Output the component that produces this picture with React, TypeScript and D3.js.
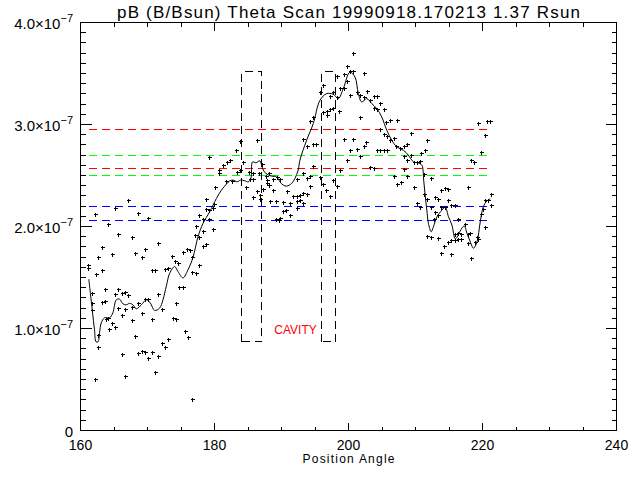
import React from 'react';
import * as d3 from 'd3';

// ---------- data (y values in units of 1e-7) ----------
const X_DOMAIN: [number, number] = [160, 240];
const Y_DOMAIN: [number, number] = [0, 4];
const X_MAJOR_TICKS = [160, 180, 200, 220, 240];
const X_TICK_LABELS = ['160', '180', '200', '220', '240'];
const Y_MAJOR_TICKS = [0, 1, 2, 3, 4];
const Y_TICK_MANTISSA = ['0', '1.0×10', '2.0×10', '3.0×10', '4.0×10'];
const Y_TICK_EXPONENT = ['', '−7', '−7', '−7', '−7'];

const TITLE = 'pB (B/Bsun) Theta Scan 19990918.170213 1.37 Rsun';
const X_TITLE = 'Position Angle';
const CAVITY_LABEL = 'CAVITY';
const CAVITY_POS: [number, number] = [192.1, 0.95];

const scanPoints: [number, number][] = [
  [161.20,1.617],[161.20,1.591],[161.75,1.347],[161.75,1.242],[161.75,1.177],[162.35,1.526],[162.24,2.122],[162.74,1.699],
  [162.74,0.809],[163.24,1.568],[163.24,1.797],[163.24,1.259],[163.74,1.386],[163.74,1.265],[164.23,2.024],[163.93,1.092],
  [164.23,1.102],[164.34,0.988],[164.74,1.721],[164.74,1.046],[165.23,2.178],[165.23,1.330],[165.23,1.014],[165.73,1.920],
  [165.73,1.386],[165.73,1.200],[166.24,1.347],[166.24,1.125],[166.73,1.353],[166.73,1.183],[167.22,2.259],[167.22,1.320],
  [167.73,1.890],[167.73,1.210],[167.73,1.079],[168.22,1.738],[168.22,0.922],[168.72,2.129],[168.72,1.249],[169.23,1.699],
  [169.23,1.151],[169.72,1.777],[169.72,1.281],[170.21,2.076],[170.21,1.281],[170.72,1.568],[170.72,1.086],[171.21,1.568],
  [171.71,1.829],[171.71,1.337],[172.22,1.183],[172.22,0.851],[172.71,1.581],[172.71,0.809],[173.20,1.591],[173.20,0.897],
  [173.71,1.705],[173.91,1.098],[174.31,1.249],[174.40,1.092],[174.21,1.653],[174.70,1.640],[162.24,0.499],[162.74,0.929],
  [166.24,0.743],[166.73,0.525],[168.72,0.753],[169.23,0.776],[169.72,0.760],[170.21,0.701],[171.21,0.570],[171.71,0.727],
  [170.72,0.766],
  [175.30,1.744],[175.90,1.777],[176.40,1.763],[176.70,1.699],[177.20,1.907],[177.69,1.894],[177.30,1.998],[177.79,2.103],
  [178.39,2.070],[179.29,2.070],[178.29,1.802],[178.80,1.819],[178.80,2.266],[178.80,2.168],[179.29,2.155],[179.78,2.178],
  [180.04,2.220],[179.78,1.973],[179.29,2.677],[180.79,2.546],[180.79,2.520],[181.38,2.601],[181.88,2.624],[182.39,2.644],
  [181.79,2.438],[182.68,2.438],[183.28,2.748],[183.37,2.526],[183.88,2.553],[183.88,2.829],[184.27,2.631],[184.78,2.383],
  [185.27,2.526],[185.76,2.520],[185.38,2.462],[185.87,2.462],[185.76,2.286],[186.36,2.846],[186.36,2.344],[186.77,2.520],
  [186.87,2.308],[186.87,2.266],[187.17,2.608],[187.36,2.364],[187.77,2.487],[187.86,2.455],[187.86,2.422],[188.26,2.520],
  [188.26,2.406],[188.37,2.243],[188.86,2.462],[188.86,2.357],[189.26,2.243],[189.35,2.481],[189.86,2.462],[189.26,2.064],
  [189.76,2.057],[189.86,2.080],[190.25,2.233],[190.85,2.344],[190.76,2.155],[174.80,1.401],[175.30,1.401],[175.70,0.968],
  [176.19,0.907],[176.79,0.303],[176.79,1.552],[177.30,1.542],[177.69,1.614],[178.29,1.949],[180.19,2.383],[190.25,2.145],
  [200.82,3.694],[199.82,3.573],[200.33,3.524],[200.82,3.524],[198.33,3.472],[199.33,3.491],[202.32,3.498],[199.82,3.423],
  [198.83,3.352],[199.33,3.352],[196.23,3.384],[195.84,3.309],[197.34,3.276],[197.83,3.309],[198.33,3.264],[200.33,3.286],
  [201.32,3.309],[201.82,3.286],[202.32,3.264],[202.81,3.328],[203.32,3.237],[203.81,3.279],[204.31,3.279],[203.81,3.156],
  [204.31,3.146],[204.82,3.205],[205.31,3.146],[201.82,3.068],[198.73,3.127],[196.23,3.113],[196.83,3.123],[197.34,3.146],
  [197.83,3.156],[196.83,3.090],[194.84,3.064],[194.35,3.032],[205.71,3.015],[206.31,3.042],[207.30,3.035],[204.82,2.951],
  [205.31,2.898],[205.80,2.878],[206.31,2.846],[206.80,2.859],[207.21,2.787],[193.35,2.853],[193.84,2.787],[194.84,2.807],
  [195.25,2.800],[199.33,2.853],[200.82,2.853],[202.72,2.820],[200.33,2.748],[201.32,2.755],[202.32,2.787],[204.31,2.748],
  [204.82,2.748],[205.31,2.741],[205.80,2.748],[199.82,2.650],[201.82,2.690],[203.32,2.579],[203.81,2.565],[198.83,2.553],
  [193.35,2.520],[192.34,2.462],[193.84,2.471],[194.35,2.487],[194.35,2.396],[195.84,2.481],[196.34,2.416],[197.83,2.448],
  [198.33,2.396],[206.80,2.494],[207.30,2.416],[191.85,2.298],[192.34,2.291],[192.85,2.308],[193.35,2.325],[193.84,2.318],
  [192.85,2.259],[192.34,2.243],[193.24,2.227],[192.34,2.178],[191.36,2.227],[191.36,2.112],[197.34,2.291],[194.74,2.585],
  [196.74,2.357],
  [219.41,3.009],[220.76,3.025],[221.26,3.025],[220.41,2.895],[209.45,2.912],[211.84,2.839],[208.79,2.807],[208.30,2.787],
  [207.81,2.765],[211.44,2.748],[210.95,2.716],[209.45,2.699],[219.92,2.726],[208.30,2.683],[208.79,2.650],[209.79,2.624],
  [210.29,2.624],[210.80,2.634],[208.30,2.559],[218.42,2.644],[218.77,2.624],[211.29,2.511],[208.79,2.487],[212.44,2.471],
  [207.96,2.435],[209.84,2.383],[213.94,2.350],[214.43,2.374],[214.92,2.364],[217.91,2.383],[221.41,2.318],[211.29,2.318],
  [211.78,2.269],[212.93,2.286],[213.43,2.266],[214.92,2.252],[220.41,2.259],[220.90,2.259],[210.35,2.227],[213.94,2.188],
  [214.43,2.188],[215.43,2.201],[215.93,2.201],[210.80,2.188],[212.44,2.188],[221.41,2.207],[220.16,2.168],[212.93,2.135],
  [213.43,2.103],[216.42,2.070],[217.42,2.024],[212.83,2.064],[219.92,2.113],[220.41,1.992],[215.93,1.917],[216.42,1.927],
  [216.93,1.917],[217.91,1.917],[218.27,1.927],[211.78,1.900],[212.44,1.894],[213.43,1.881],[215.43,1.861],[215.93,1.861],
  [216.42,1.875],[216.93,1.868],[219.32,1.894],[219.41,1.868],[214.92,1.842],[214.33,1.802],[217.91,1.836],[218.92,1.842],
  [213.83,1.738],[215.43,1.721],[218.42,1.689],
];

const smoothCurve: [number, number][] = [
  [161.24,1.484],[161.75,1.183],[162.09,0.988],[162.32,0.870],[162.62,0.870],[162.84,0.958],[163.10,1.056],[163.59,1.105],
  [164.34,1.105],[164.83,1.154],[165.34,1.281],[165.83,1.288],[166.33,1.242],[166.83,1.232],[167.33,1.247],[167.82,1.232],
  [168.33,1.193],[169.08,1.232],[169.82,1.281],[170.42,1.249],[171.07,1.177],[171.81,1.200],[172.31,1.281],[172.82,1.418],
  [173.31,1.542],[174.06,1.607],[174.55,1.558],[175.30,1.496],[176.04,1.575],[176.79,1.697],[177.54,1.900],[178.29,2.031],
  [179.29,2.145],[180.29,2.276],[181.04,2.357],[181.79,2.416],[182.28,2.448],[182.77,2.455],[183.37,2.438],[183.88,2.455],
  [184.52,2.448],[185.02,2.438],[185.42,2.471],[185.68,2.634],[186.17,2.624],[186.77,2.644],[187.17,2.569],[187.66,2.520],
  [188.52,2.494],[189.26,2.487],[189.76,2.438],[190.25,2.406],[190.76,2.396],[191.51,2.422],[192.00,2.471],[192.49,2.553],
  [192.75,2.650],[193.75,2.846],[194.74,3.009],[195.74,3.237],[196.74,3.303],[197.73,3.296],[198.48,3.254],[199.22,3.352],
  [200.22,3.514],[200.97,3.465],[201.47,3.303],[201.97,3.221],[202.72,3.254],[203.47,3.205],[204.22,3.156],[204.96,3.074],
  [205.71,2.944],[206.46,2.846],[207.21,2.781],[208.19,2.748],[208.94,2.699],[209.69,2.634],[210.39,2.624],[210.95,2.601],
  [211.22,2.455],[211.44,2.308],[211.69,2.161],[211.93,2.031],[212.34,1.949],[212.68,1.998],[213.19,2.093],[213.94,2.161],
  [214.43,2.191],[214.92,2.096],[215.43,2.015],[215.93,1.878],[216.22,1.897],[216.67,1.956],[217.27,2.005],[217.67,1.936],
  [218.07,1.868],[218.66,1.787],[219.17,1.848],[219.66,2.044],[220.11,2.191],[220.64,2.249],[221.16,2.272],
];

const LEVEL_VALUES = [2.954, 2.699, 2.569, 2.504, 2.200, 2.058];
const LEVEL_COLORS = ['#ff0000', '#00ff00', '#ff0000', '#00ff00', '#0000ff', '#0000ff'];
const LEVEL_X_RANGE: [number, number] = [161.2, 220.9];

const BOX_X_START = [184, 196];
const BOX_X_END = [187, 198];
const BOX_Y_RANGE: [number, number] = [0.87, 3.52];

// ---------- chart ----------
const FONT = "'Liberation Sans', Arial, Helvetica, sans-serif";

export default function App() {
  const W = 640;
  const H = 480;
  const x = d3.scaleLinear().domain(X_DOMAIN).range([80.5, 616.5]);
  const y = d3.scaleLinear().domain(Y_DOMAIN).range([430.5, 22.5]);
  const cx = (v: number) => Math.round(x(v) - 0.5) + 0.5;
  const cy = (v: number) => Math.round(y(v) - 0.5) + 0.5;

  const [x0, x1] = x.range();
  const [yB, yT] = y.range();

  const xMinor = d3.range(0, 17).map((i) => 160 + i * 5);
  const yMinor = d3.range(0, 41).map((i) => i / 10);

  let tickPath = '';
  xMinor.forEach((v) => {
    const major = X_MAJOR_TICKS.includes(v);
    const len = major ? 8 : 4;
    const px = cx(v);
    tickPath += `M${px},${yB}V${yB - len}M${px},${yT}V${yT + len}`;
  });
  yMinor.forEach((v, i) => {
    const major = i % 10 === 0;
    const len = major ? 11 : 5;
    const py = cy(v);
    tickPath += `M${x0},${py}H${x0 + len}M${x1},${py}H${x1 - len}`;
  });

  const line = d3
    .line<[number, number]>()
    .x((d) => x(d[0]))
    .y((d) => y(d[1]))
    .curve(d3.curveCatmullRom.alpha(0.5));

  const plusPath = scanPoints
    .map(([a, b]) => {
      const px = cx(a);
      const py = cy(b);
      return `M${px - 2},${py}H${px + 2}M${px},${py - 2}V${py + 2}`;
    })
    .join('');

  return (
    <svg
      width={W}
      height={H}
      style={{ position: 'absolute', left: 0, top: 0, background: '#fff' }}
    >
      <rect x={0} y={0} width={W} height={H} fill="#fff" />
      {/* title */}
      <text
        x={(x0 + x1) / 2}
        y={18}
        textAnchor="middle"
        fontFamily={FONT}
        fontSize={17}
        textLength={463}
        lengthAdjust="spacing"
        fill="#000"
      >
        {TITLE}
      </text>

      {/* level lines */}
      {LEVEL_VALUES.map((v, i) => (
        <line
          key={'lv' + i}
          x1={x(LEVEL_X_RANGE[0])}
          x2={x(LEVEL_X_RANGE[1])}
          y1={cy(v)}
          y2={cy(v)}
          stroke={LEVEL_COLORS[i]}
          strokeWidth={1}
          strokeDasharray="8,5"
          shapeRendering="crispEdges"
        />
      ))}

      {/* cavity boxes */}
      {BOX_X_START.map((b, i) => {
        const bx0 = cx(b);
        const bx1 = cx(BOX_X_END[i]);
        const by0 = cy(BOX_Y_RANGE[0]);
        const by1 = cy(BOX_Y_RANGE[1]);
        return (
          <path
            key={'box' + i}
            d={`M${bx0},${by0}V${by1}H${bx1}V${by0}Z`}
            fill="none"
            stroke="#000"
            strokeWidth={1}
            strokeDasharray="8,5"
            shapeRendering="crispEdges"
          />
        );
      })}

      {/* smoothed curve */}
      <path d={line(smoothCurve) || ''} fill="none" stroke="#000" strokeWidth={1} />

      {/* data points */}
      <path d={plusPath} stroke="#000" strokeWidth={1} fill="none" shapeRendering="crispEdges" />

      {/* cavity label */}
      <text
        x={x(CAVITY_POS[0])}
        y={y(CAVITY_POS[1])}
        textAnchor="middle"
        fontFamily={FONT}
        fontSize={12}
        fill="#ff0000"
      >
        {CAVITY_LABEL}
      </text>

      {/* frame and ticks */}
      <rect
        x={x0}
        y={yT}
        width={x1 - x0}
        height={yB - yT}
        fill="none"
        stroke="#000"
        strokeWidth={1}
        shapeRendering="crispEdges"
      />
      <path d={tickPath} stroke="#000" strokeWidth={1} fill="none" shapeRendering="crispEdges" />

      {/* x tick labels */}
      {X_MAJOR_TICKS.map((v, i) => (
        <text
          key={'xt' + i}
          x={x(v)}
          y={450}
          textAnchor="middle"
          fontFamily={FONT}
          fontSize={14}
          fill="#000"
        >
          {X_TICK_LABELS[i]}
        </text>
      ))}
      <text
        x={(x0 + x1) / 2}
        y={463}
        textAnchor="middle"
        fontFamily={FONT}
        fontSize={12}
        textLength={92}
        lengthAdjust="spacing"
        fill="#000"
      >
        {X_TITLE}
      </text>

      {/* y tick labels */}
      {Y_MAJOR_TICKS.map((v, i) => (
        <text
          key={'yt' + i}
          x={73}
          y={y(v) + 6}
          textAnchor="end"
          fontFamily={FONT}
          fontSize={15}
          fill="#000"
        >
          {Y_TICK_MANTISSA[i]}
          {Y_TICK_EXPONENT[i] ? (
            <tspan dy={-7} fontSize={11}>
              {Y_TICK_EXPONENT[i]}
            </tspan>
          ) : null}
        </text>
      ))}
    </svg>
  );
}
